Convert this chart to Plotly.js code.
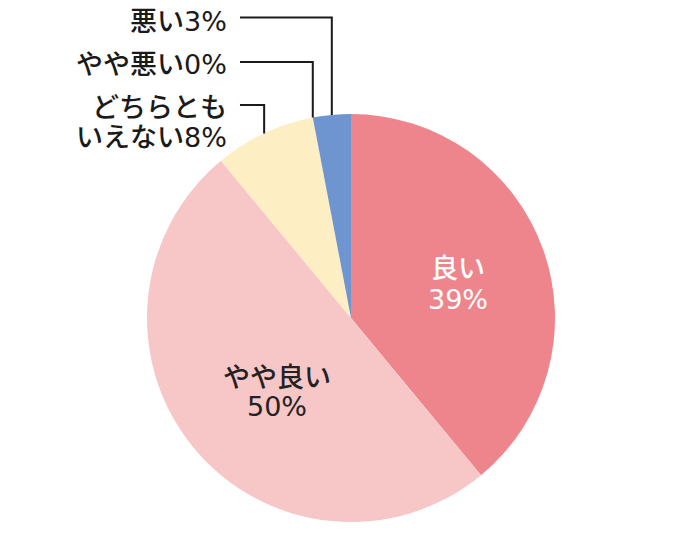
<!DOCTYPE html>
<html>
<head>
<meta charset="utf-8">
<script src="https://cdn.plot.ly/plotly-3.0.1.min.js"></script>
<style>html,body{margin:0;padding:0;background:#fff;}#chart{width:700px;height:540px;}</style>
</head>
<body>
<div id="chart"></div>
<script>
// ---- data ----
const categories = ['良い', 'やや良い', 'どちらとも<br>いえない', 'やや悪い', '悪い'];
const values = [39, 50, 8, 0, 3];
const sliceColors = ['#EE858C', '#F7C6C7', '#FDEFC3', '#C9C9C9', '#6E95CF'];

// ---- layout constants (pixels) ----
const W = 700, H = 540;
const M = {l: 147, r: 145, t: 114, b: 18};
const R = (W - M.l - M.r) / 2;
const cx = M.l + R, cy = M.t + R;
const FONT = '"Noto Sans CJK JP", "Noto Sans", sans-serif';
const NUMFONT = "'DejaVu Sans', sans-serif";
const FS = 27;
const LINE_GAP = 30;
const BOX_H = 29;

// inside labels: index -> {r: radial fraction, dx, dy, color}
const insideCfg = {0: {r: 0.56, dx: 0, dy: 4, color: '#FFFFFF', gap: 33},
                   1: {r: 0.51, dx: 6, dy: 7, color: '#222222', gap: 31}};
// outside labels: index -> {line: y of leader line, text: y of first text line} (pixel)
const outsideCfg = {4: {line: 17.5, text: 19.5}, 3: {line: 62, text: 62}, 2: {line: 105, text: 105}};
const labelRight = 228, lineStart = 240;

const total = values.reduce((a, b) => a + b, 0);
const px2x = p => (p - M.l) / (2 * R);
const px2y = p => (H - M.b - p) / (2 * R);
const num = v => `<span style="font-family:${NUMFONT}">${v}%</span>`;

// mid angles (clockwise from 12 o'clock)
let cum = 0;
const midAngle = values.map(v => { const a = (cum + v / 2) / total * 2 * Math.PI; cum += v; return a; });

const annotations = [];
const shapes = [];

Object.keys(insideCfg).forEach(k => {
  const i = +k, c = insideCfg[k];
  const a = midAngle[i];
  const x = cx + c.r * R * Math.sin(a) + c.dx;
  const y = cy - c.r * R * Math.cos(a) + c.dy;
  const lines = [categories[i].replace('<br>', ''), num(values[i])];
  lines.forEach((t, j) => {
    annotations.push({xref: 'paper', yref: 'paper', x: px2x(x), y: px2y(y + (j - 0.5) * c.gap),
      text: t, showarrow: false, xanchor: 'center', yanchor: 'middle', height: BOX_H, borderpad: 0,
      font: {family: FONT, size: FS, color: c.color, weight: 500}});
  });
});

Object.keys(outsideCfg).forEach(k => {
  const i = +k, cfg = outsideCfg[k];
  const parts = categories[i].split('<br>');
  parts[parts.length - 1] += num(values[i]);
  parts.forEach((t, j) => {
    annotations.push({xref: 'paper', yref: 'paper', x: px2x(labelRight), y: px2y(cfg.text + j * LINE_GAP),
      text: t, showarrow: false, xanchor: 'right', yanchor: 'middle', height: BOX_H, borderpad: 0,
      font: {family: FONT, size: FS, color: '#1A1A1A', weight: 500}});
  });
  const a = midAngle[i];
  const ex = cx + R * Math.sin(a), ey = cy - R * Math.cos(a);
  const y0 = cfg.line;
  shapes.push({type: 'path', xref: 'paper', yref: 'paper',
    path: `M ${px2x(lineStart)},${px2y(y0)} L ${px2x(ex)},${px2y(y0)} L ${px2x(ex)},${px2y(ey)}`,
    line: {color: '#1A1A1A', width: 2}});
});

const trace = {
  type: 'pie',
  labels: categories,
  values: values,
  sort: false,
  direction: 'clockwise',
  rotation: 0,
  hole: 0,
  marker: {colors: sliceColors, line: {width: 0}},
  textinfo: 'none',
  hoverinfo: 'none',
  showlegend: false,
  domain: {x: [0, 1], y: [0, 1]}
};

const layout = {
  width: W, height: H,
  margin: M,
  paper_bgcolor: '#FFFFFF',
  plot_bgcolor: '#FFFFFF',
  showlegend: false,
  annotations: annotations,
  shapes: shapes
};

Plotly.newPlot('chart', [trace], layout, {displayModeBar: false, staticPlot: true});
</script>
</body>
</html>
